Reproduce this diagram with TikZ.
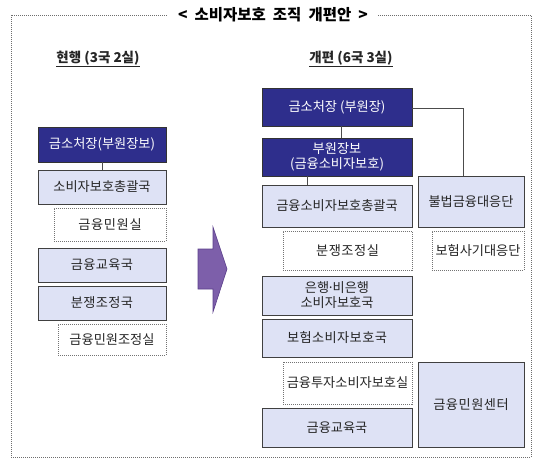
\documentclass[tikz,border=0pt]{standalone}
\usepackage{fontspec}
\setmainfont{Noto Sans CJK KR}
\usetikzlibrary{calc}
\definecolor{darkbox}{RGB}{46,46,140}
\definecolor{lightbox}{RGB}{222,226,245}
\definecolor{arrowfill}{RGB}{125,95,170}
\definecolor{arrowline}{RGB}{90,62,138}
\definecolor{framegray}{RGB}{110,110,110}
\tikzset{
  every node/.style={inner sep=0pt, align=center},
  darkbx/.style={draw=black!80, fill=darkbox, text=white, font=\fontsize{13.2}{14.5}\selectfont, line width=0.6pt},
  lightbx/.style={draw=black!75, fill=lightbox, text=black!85, font=\fontsize{13.2}{15}\selectfont, line width=0.6pt},
  dashbx/.style={draw=black!55, dash pattern=on 1pt off 1pt, fill=white, text=black!85, font=\fontsize{13.2}{15}\selectfont, line width=0.5pt},
  conn/.style={draw=black!70, line width=0.6pt},
  sz/.style 2 args={minimum width=#1pt, minimum height=#2pt},
}
\begin{document}
\begin{tikzpicture}[x=1pt,y=-1pt]
\useasboundingbox (0,0) rectangle (540,468);
% frame
\draw[framegray, dash pattern=on 1pt off 1pt, line width=0.6pt] (11,15) rectangle (531,457);
\node[fill=white, inner xsep=10pt, inner ysep=3pt, font=\fontsize{15.5}{17}\selectfont\bfseries] (title) at (273,15) {<\hspace{0.45em}소비자보호\ \ 조직\ \ 개편안\hspace{0.45em}>};
% headings
\node[font=\fontsize{13.5}{15}\selectfont\bfseries, text=black!85] (hL) at (98,59) {\underline{현행 (3국 2실)}};
\node[font=\fontsize{13.5}{15}\selectfont\bfseries, text=black!85] (hR) at (351,59) {\underline{개편 (6국 3실)}};
% left column
\node[darkbx, sz={128}{35}] (L1) at (102,144.5) {금소처장(부원장보)};
\node[lightbx, sz={128}{34}] (L2) at (102,187) {소비자보호총괄국};
\node[dashbx, sz={112}{33}] (L3) at (110,224.5) {\addfontfeatures{LetterSpace=5}금융민원실};
\node[lightbx, sz={128}{34}] (L4) at (102,265) {\addfontfeatures{LetterSpace=3}금융교육국};
\node[lightbx, sz={128}{34}] (L5) at (102,303) {\addfontfeatures{LetterSpace=3}분쟁조정국};
\node[dashbx, sz={108}{31}] (L6) at (112,339.5) {금융민원조정실};
\draw[conn] (L1.south) -- (L2.north);
% arrow
\draw[arrowline, fill=arrowfill, line width=0.6pt, line join=miter]
  (198,249) -- (213,249) -- (213,227) -- (227,269) -- (213,312) -- (213,289) -- (198,289) -- cycle;
% right column
\node[darkbx, sz={150}{38}] (R1) at (337,107) {금소처장 (부원장)};
\node[darkbx, sz={150}{38}] (R2) at (337,157) {부원장보\\(금융소비자보호)};
\node[lightbx, sz={150}{42}] (R3) at (337,206) {금융소비자보호총괄국};
\node[lightbx, sz={106}{51}] (R4) at (471,201.5) {불법금융대응단};
\node[dashbx, sz={129}{39}] (R5) at (347.5,250.5) {\addfontfeatures{LetterSpace=4}분쟁조정실};
\node[dashbx, sz={92}{39}] (R6) at (478,250.5) {보험사기대응단};
\node[lightbx, sz={150}{39}] (R7) at (337,295.5) {은행\kern-.15em·\kern-.15em비은행\\소비자보호국};
\node[lightbx, sz={150}{38}] (R8) at (337,338) {\addfontfeatures{LetterSpace=3}보험소비자보호국};
\node[dashbx, sz={129}{42}] (R9) at (347.5,383) {금융투자소비자보호실};
\node[lightbx, sz={150}{39}] (R10) at (337,427.5) {금융교육국};
\node[lightbx, sz={106}{85}] (R11) at (471,404.5) {\addfontfeatures{LetterSpace=4}금융민원센터};
\draw[conn] ([xshift=4pt]R1.south) -- ([xshift=4pt]R2.north);
\draw[conn] ([xshift=-30pt]R2.south) -- ([xshift=-30pt]R3.north);
\draw[conn] ([yshift=-1pt]R1.east) -| ([xshift=-8pt]R4.north);
\end{tikzpicture}
\end{document}
